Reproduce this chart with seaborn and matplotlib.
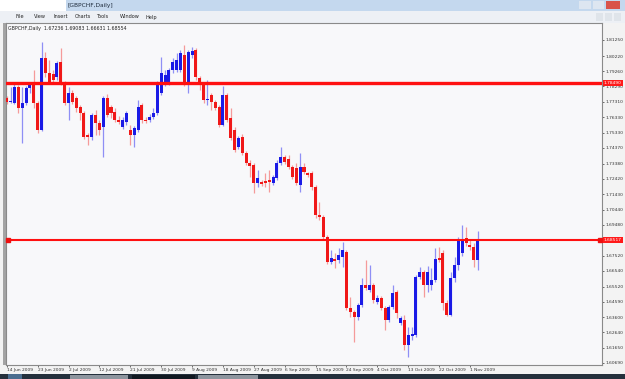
import pandas as pd
import seaborn as sns
import matplotlib.pyplot as plt
from matplotlib.patches import Rectangle
from matplotlib.transforms import blended_transform_factory

# ---- GBPCHF daily candles ----
opens = [1.7756, 1.7730, 1.7724, 1.7826, 1.7692, 1.7724, 1.7819, 1.7839, 1.7724, 1.7552,
         1.8010, 1.7915, 1.7909, 1.7890, 1.7985, 1.7851, 1.7724, 1.7788, 1.7756, 1.7698,
         1.7660, 1.7520, 1.7507, 1.7647, 1.7597, 1.7571, 1.7756, 1.7698, 1.7667, 1.7616,
         1.7571, 1.7603, 1.7552, 1.7520, 1.7552, 1.7711, 1.7616, 1.7616, 1.7635, 1.7660,
         1.7788, 1.7851, 1.7851, 1.7934, 1.7934, 1.7934, 1.8030, 1.7851, 1.8030, 1.8061,
         1.7883, 1.7839, 1.7743, 1.7775, 1.7730, 1.7698, 1.7584, 1.7775, 1.7628, 1.7552,
         1.7444, 1.7507, 1.7405, 1.7342, 1.7329, 1.7214, 1.7221, 1.7227, 1.7233, 1.7214,
         1.7246, 1.7342, 1.7380, 1.7367, 1.7316, 1.7310, 1.7202, 1.7316, 1.7278, 1.7278,
         1.7189, 1.7010, 1.6998, 1.6870, 1.6711, 1.6730, 1.6724, 1.6743, 1.6775, 1.6418,
         1.6393, 1.6361, 1.6437, 1.6565, 1.6533, 1.6565, 1.6456, 1.6482, 1.6418, 1.6342,
         1.6424, 1.6520, 1.6323, 1.6342, 1.6182, 1.6240, 1.6246, 1.6616, 1.6647, 1.6565,
         1.6565, 1.6596, 1.6737, 1.6768, 1.6450, 1.6373, 1.6609, 1.6692, 1.6768, 1.6864,
         1.6819, 1.6807, 1.67236]
highs = [1.7768, 1.7826, 1.7851, 1.7839, 1.7826, 1.7832, 1.7851, 1.7934, 1.7737, 1.8112,
         1.8049, 1.7998, 1.7934, 1.7991, 1.8074, 1.7864, 1.7826, 1.7807, 1.7768, 1.7711,
         1.7673, 1.7533, 1.7660, 1.7679, 1.7616, 1.7768, 1.7781, 1.7711, 1.7692, 1.7641,
         1.7635, 1.7673, 1.7584, 1.7577, 1.7743, 1.7724, 1.7635, 1.7654, 1.7692, 1.7864,
         1.8017, 1.7934, 1.7947, 1.8010, 1.8042, 1.8061, 1.8093, 1.8061, 1.8081, 1.8074,
         1.7896, 1.7851, 1.7870, 1.7788, 1.7743, 1.7711, 1.7832, 1.7788, 1.7692, 1.7571,
         1.7514, 1.7526, 1.7418, 1.7361, 1.7342, 1.7297, 1.7233, 1.7278, 1.7297, 1.7265,
         1.7361, 1.7444, 1.7393, 1.7393, 1.7329, 1.7342, 1.7405, 1.7342, 1.7284, 1.7291,
         1.7202, 1.7093, 1.7010, 1.6883, 1.6787, 1.6768, 1.6800, 1.6838, 1.6787, 1.6488,
         1.6405, 1.6450, 1.6609, 1.6724, 1.6692, 1.6577, 1.6501, 1.6495, 1.6431, 1.6437,
         1.6565, 1.6533, 1.6367, 1.6373, 1.6297, 1.6297, 1.6628, 1.6679, 1.6660, 1.6686,
         1.6673, 1.6800, 1.6807, 1.6787, 1.6469, 1.6647, 1.6743, 1.6870, 1.6947, 1.6934,
         1.6851, 1.6832, 1.69083]
lows = [1.7718, 1.7724, 1.7718, 1.7660, 1.7469, 1.7711, 1.7788, 1.7692, 1.7533, 1.7546,
        1.7890, 1.7845, 1.7845, 1.7870, 1.7839, 1.7711, 1.7616, 1.7718, 1.7667, 1.7616,
        1.7495, 1.7456, 1.7488, 1.7520, 1.7520, 1.7380, 1.7635, 1.7628, 1.7603, 1.7590,
        1.7558, 1.7584, 1.7456, 1.7444, 1.7539, 1.7597, 1.7597, 1.7603, 1.7622, 1.7647,
        1.7775, 1.7832, 1.7839, 1.7915, 1.7921, 1.7921, 1.7832, 1.7788, 1.8010, 1.7870,
        1.7807, 1.7724, 1.7711, 1.7679, 1.7679, 1.7571, 1.7577, 1.7603, 1.7488, 1.7412,
        1.7431, 1.7393, 1.7329, 1.7253, 1.7151, 1.7189, 1.7195, 1.7189, 1.7157, 1.7202,
        1.7233, 1.7329, 1.7335, 1.7303, 1.7240, 1.7202, 1.7157, 1.7272, 1.7253, 1.7170,
        1.6991, 1.6979, 1.6858, 1.6698, 1.6698, 1.6673, 1.6705, 1.6679, 1.6405, 1.6361,
        1.6202, 1.6342, 1.6424, 1.6533, 1.6520, 1.6450, 1.6444, 1.6405, 1.6278, 1.6329,
        1.6412, 1.6354, 1.6310, 1.6151, 1.6106, 1.6214, 1.6233, 1.6603, 1.6488, 1.6520,
        1.6533, 1.6584, 1.6711, 1.6405, 1.6367, 1.6367, 1.6584, 1.6660, 1.6749, 1.6813,
        1.6787, 1.6679, 1.66631]
closes = [1.7730, 1.7737, 1.7826, 1.7692, 1.7724, 1.7819, 1.7839, 1.7724, 1.7552, 1.8010,
          1.7915, 1.7858, 1.7870, 1.7979, 1.7851, 1.7724, 1.7788, 1.7730, 1.7692, 1.7660,
          1.7507, 1.7507, 1.7647, 1.7597, 1.7552, 1.7756, 1.7647, 1.7660, 1.7616, 1.7603,
          1.7616, 1.7660, 1.7520, 1.7565, 1.7698, 1.7616, 1.7609, 1.7635, 1.7660, 1.7851,
          1.7915, 1.7902, 1.7934, 1.7985, 1.7998, 1.8042, 1.7851, 1.8049, 1.8055, 1.7890,
          1.7839, 1.7743, 1.7749, 1.7730, 1.7692, 1.7584, 1.7775, 1.7616, 1.7501, 1.7425,
          1.7501, 1.7405, 1.7342, 1.7323, 1.7214, 1.7246, 1.7208, 1.7214, 1.7221, 1.7253,
          1.7342, 1.7380, 1.7348, 1.7316, 1.7253, 1.7214, 1.7316, 1.7284, 1.7265, 1.7189,
          1.7010, 1.6998, 1.6870, 1.6711, 1.6737, 1.6717, 1.6756, 1.6787, 1.6418, 1.6393,
          1.6361, 1.6437, 1.6565, 1.6545, 1.6565, 1.6469, 1.6482, 1.6418, 1.6342, 1.6424,
          1.6514, 1.6386, 1.6354, 1.6182, 1.6246, 1.6252, 1.6616, 1.6647, 1.6565, 1.6647,
          1.6596, 1.6730, 1.6724, 1.6450, 1.6373, 1.6609, 1.6692, 1.6851, 1.6851, 1.6832,
          1.6807, 1.6724, 1.68554]

date_labels = ["14 Jun 2009", "23 Jun 2009", "2 Jul 2009", "12 Jul 2009", "21 Jul 2009",
               "30 Jul 2009", "9 Aug 2009", "18 Aug 2009", "27 Aug 2009", "6 Sep 2009",
               "15 Sep 2009", "24 Sep 2009", "4 Oct 2009", "13 Oct 2009", "22 Oct 2009",
               "1 Nov 2009"]
bars_per_label = 8

price_ticks = [1.81250, 1.80220, 1.79260, 1.78290, 1.77310, 1.76330, 1.75330, 1.74370,
               1.73380, 1.72420, 1.71430, 1.70440, 1.69480, 1.68500, 1.67520, 1.66540,
               1.65520, 1.64590, 1.63600, 1.62640, 1.61650, 1.60690]
level_prices = [1.78490, 1.68517]
level_widths = [2.4, 1.5]

menu_items = ["File", "View", "Insert", "Charts", "Tools", "Window", "Help"]
menu_x = [16, 34, 54, 75, 96, 120, 146]

# ---- build frame ----
df = pd.DataFrame({"open": opens, "high": highs, "low": lows, "close": closes})
df["bar"] = range(len(df))
df["up"] = df["close"] >= df["open"]

sns.set_theme(style="white")
plt.rcParams["font.family"] = ["DejaVu Sans"]

W, H = 625, 379
fig = plt.figure(figsize=(W / 100, H / 100), dpi=100)
fig.patch.set_facecolor("#f3f3f3")


def px_rect(x0, y0, x1, y1, color, z=-1):
    # rectangle in screen pixels (top-left origin)
    fig.patches.append(Rectangle((x0 / W, 1 - y1 / H), (x1 - x0) / W, (y1 - y0) / H,
                                 transform=fig.transFigure, facecolor=color,
                                 edgecolor="none", zorder=z))


# window chrome
px_rect(0, 0, W, 11, "#c4d8ee")
px_rect(0, 0, 66, 11, "#ffffff")
px_rect(0, 11, W, 23, "#edf0f5")
px_rect(579, 1, 591, 9, "#dde6f1")
px_rect(593, 1, 604, 9, "#dde6f1")
px_rect(606, 1, 620, 9, "#d9534a")
px_rect(596, 13, 603, 21, "#dfe4ea")
px_rect(605, 13, 612, 21, "#dfe4ea")
px_rect(614, 13, 621, 21, "#dfe4ea")
px_rect(0, 374, W, H, "#24303c")
px_rect(8, 374, 22, H, "#4a6d8f")
px_rect(70, 375, 128, H, "#8d959e")
px_rect(132, 375, 195, H, "#101820")
px_rect(198, 375, 258, H, "#8d959e")
px_rect(3, 23, 6, 365, "#a4a4a4")
fig.text(68 / W, 1 - 7.5 / H, "[GBPCHF,Daily]", fontsize=4.2, color="#1d2a3a", va="baseline")
for name, mx in zip(menu_items, menu_x):
    fig.text(mx / W, 1 - 18.5 / H, name, fontsize=3.6, color="#222222", va="baseline")

# ---- chart ----
ax = fig.add_axes([6 / W, 1 - 365 / H, 596 / W, 342 / H])
ax.set_facecolor("#f8f8fa")

wick_col = df["up"].map({True: "#8f8ff5", False: "#f59a9a"})
body_col = df["up"].map({True: "#1a1ae6", False: "#f01818"})
body_lo = df[["open", "close"]].min(axis=1)
body_h = (df["close"] - df["open"]).abs().clip(lower=0.0005)

ax.vlines(df["bar"], df["low"], df["high"], colors=wick_col, linewidth=0.9, zorder=2)
ax.bar(df["bar"], body_h, bottom=body_lo, width=0.78, color=body_col, linewidth=0, zorder=3)

for lvl, lw in zip(level_prices, level_widths):
    ax.axhline(lvl, color="#ff1010", linewidth=lw, zorder=4)
ax.plot([0.3, 153.6], [level_prices[1]] * 2, "s", color="#ee1010", markersize=2.2,
        zorder=5, clip_on=False)

ax.set_xlim(-0.2, 154.2)
ax.set_ylim(1.6055, 1.8233)

ax.yaxis.tick_right()
ax.set_yticks(price_ticks)
ax.set_yticklabels([f"{p:.5f}" for p in price_ticks])
ax.set_xticks([i * bars_per_label for i in range(len(date_labels))])
ax.set_xticklabels(date_labels, ha="left")
ax.tick_params(axis="both", labelsize=3.2, colors="#333333", length=1.5, width=0.5, pad=0.8,
               direction="out")
ax.tick_params(axis="y", right=True, left=False)
ax.tick_params(axis="x", bottom=True)

for side in ["top", "bottom", "left", "right"]:
    ax.spines[side].set_color("#8a8a8a")
    ax.spines[side].set_linewidth(0.8)
ax.grid(False)

trans = blended_transform_factory(ax.transAxes, ax.transData)
for lvl in level_prices:
    ax.text(1.003, lvl, f"{lvl:.5f}", transform=trans, fontsize=3.2, color="white",
            va="center", ha="left", zorder=6, clip_on=False,
            bbox=dict(boxstyle="square,pad=0.2", facecolor="#ff1a1a", edgecolor="none"))

ax.text(0.004, 0.99, "GBPCHF,Daily  1.67236 1.69083 1.66631 1.68554", transform=ax.transAxes,
        fontsize=3.4, color="#222222", va="top", ha="left")

fig.savefig("out.png", dpi=100)
